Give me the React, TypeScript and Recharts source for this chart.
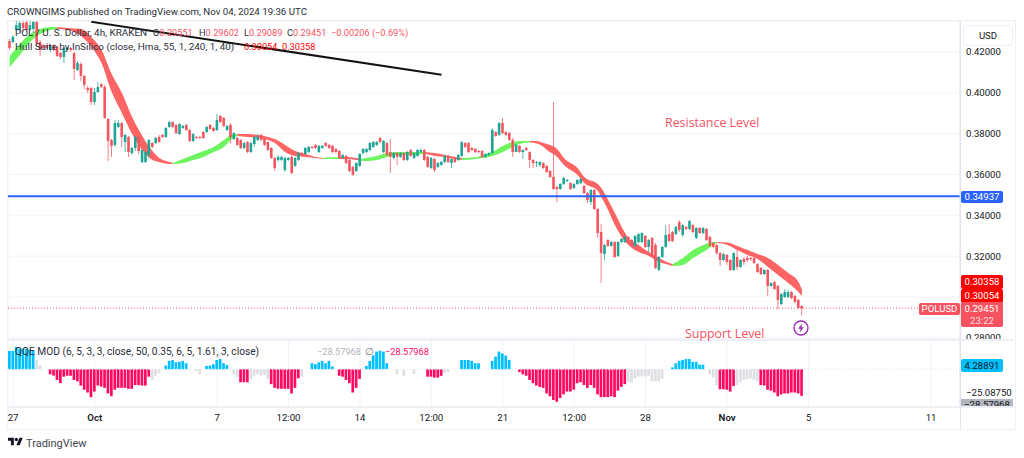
import { CSSProperties } from 'react';
import {
  Area,
  Bar,
  CartesianGrid,
  Cell,
  ComposedChart,
  ReferenceLine,
  XAxis,
  YAxis
} from 'recharts';

// candle prices, in 1/10000 USD, one per 4h bar
const opens = [
  4254, 4249, 4308, 4308, 4342, 4347, 4308, 4313, 4347, 4249,
  4234, 4234, 4210, 4234, 4225, 4195, 4176, 4210, 4220, 4195,
  4112, 4141, 4083, 4024, 4024, 3955, 4004, 4043, 4029, 3872,
  3769, 3745, 3833, 3852, 3759, 3784, 3705, 3730, 3784, 3661,
  3661, 3696, 3754, 3754, 3784, 3794, 3784, 3833, 3857, 3843,
  3798, 3828, 3843, 3818, 3764, 3784, 3784, 3808, 3808, 3843,
  3828, 3818, 3887, 3877, 3818, 3843, 3774, 3779, 3769, 3730,
  3759, 3710, 3749, 3769, 3794, 3779, 3759, 3730, 3681, 3671,
  3671, 3622, 3671, 3686, 3642, 3671, 3705, 3700, 3710, 3735,
  3745, 3710, 3730, 3754, 3745, 3740, 3725, 3715, 3681, 3691,
  3671, 3637, 3617, 3642, 3705, 3710, 3720, 3735, 3745, 3779,
  3710, 3754, 3710, 3681, 3705, 3686, 3705, 3671, 3720, 3681,
  3691, 3710, 3720, 3686, 3632, 3676, 3637, 3647, 3661, 3691,
  3656, 3681, 3671, 3691, 3754, 3754, 3730, 3725, 3715, 3715,
  3686, 3696, 3705, 3808, 3794, 3852, 3808, 3803, 3769, 3710,
  3740, 3710, 3730, 3710, 3671, 3656, 3647, 3656, 3642, 3617,
  3588, 3539, 3529, 3553, 3568, 3558, 3534, 3553, 3558, 3544,
  3509, 3465, 3524, 3431, 3318, 3210, 3279, 3250, 3269, 3201,
  3269, 3269, 3294, 3279, 3250, 3269, 3269, 3299, 3245, 3289,
  3255, 3132, 3196, 3245, 3308, 3318, 3308, 3367, 3304, 3343,
  3333, 3352, 3289, 3338, 3313, 3333, 3294, 3264, 3255, 3215,
  3181, 3206, 3181, 3132, 3196, 3147, 3186, 3191, 3191, 3191,
  3161, 3142, 3112, 3132, 3054, 3073, 3054, 2965, 3000, 3000,
  3024, 3005, 2985, 2955
];
const highs = [
  4264, 4284, 4352, 4352, 4352, 4352, 4352, 4352, 4352, 4259,
  4239, 4239, 4234, 4239, 4230, 4200, 4225, 4225, 4225, 4200,
  4156, 4151, 4088, 4034, 4029, 4024, 4053, 4048, 4039, 3877,
  3774, 3867, 3867, 3857, 3798, 3789, 3735, 3789, 3789, 3725,
  3715, 3774, 3759, 3784, 3794, 3798, 3833, 3862, 3862, 3847,
  3852, 3843, 3847, 3823, 3803, 3789, 3789, 3813, 3838, 3847,
  3833, 3896, 3892, 3882, 3843, 3852, 3808, 3784, 3774, 3759,
  3764, 3759, 3789, 3798, 3798, 3784, 3764, 3735, 3686, 3696,
  3691, 3686, 3686, 3696, 3686, 3710, 3710, 3735, 3740, 3740,
  3749, 3745, 3745, 3759, 3749, 3745, 3730, 3720, 3700, 3696,
  3676, 3642, 3661, 3705, 3730, 3730, 3759, 3764, 3764, 3784,
  3769, 3759, 3774, 3710, 3710, 3710, 3710, 3715, 3725, 3710,
  3725, 3730, 3725, 3691, 3686, 3681, 3661, 3666, 3696, 3696,
  3681, 3686, 3700, 3764, 3759, 3759, 3735, 3730, 3720, 3720,
  3705, 3710, 3828, 3813, 3857, 3877, 3813, 3808, 3779, 3749,
  3745, 3725, 3735, 3715, 3676, 3666, 3666, 3661, 3647, 3622,
  3955, 3544, 3558, 3588, 3578, 3563, 3558, 3578, 3583, 3549,
  3514, 3529, 3529, 3436, 3357, 3259, 3284, 3274, 3274, 3274,
  3289, 3299, 3299, 3284, 3304, 3313, 3318, 3304, 3284, 3294,
  3264, 3201, 3250, 3352, 3357, 3323, 3348, 3377, 3357, 3348,
  3377, 3357, 3343, 3343, 3343, 3338, 3299, 3269, 3259, 3220,
  3215, 3210, 3186, 3220, 3240, 3186, 3196, 3201, 3196, 3196,
  3166, 3147, 3137, 3137, 3073, 3078, 3059, 3019, 3039, 3034,
  3029, 3010, 2990, 2960
];
const lows = [
  4210, 4244, 4303, 4298, 4298, 4298, 4303, 4293, 4230, 4181,
  4210, 4215, 4200, 4205, 4176, 4166, 4146, 4205, 4200, 4063,
  4107, 4058, 4019, 3999, 3941, 3941, 3999, 4024, 3872, 3666,
  3686, 3735, 3828, 3735, 3710, 3686, 3696, 3715, 3700, 3656,
  3656, 3681, 3730, 3749, 3754, 3779, 3779, 3828, 3828, 3798,
  3794, 3823, 3813, 3759, 3759, 3774, 3774, 3774, 3803, 3818,
  3808, 3813, 3852, 3833, 3813, 3754, 3769, 3740, 3725, 3725,
  3705, 3705, 3735, 3764, 3764, 3740, 3715, 3676, 3617, 3661,
  3666, 3612, 3666, 3602, 3637, 3666, 3691, 3696, 3705, 3725,
  3725, 3705, 3725, 3735, 3725, 3705, 3705, 3676, 3676, 3651,
  3612, 3593, 3612, 3637, 3700, 3705, 3715, 3730, 3740, 3754,
  3705, 3691, 3607, 3676, 3647, 3681, 3666, 3666, 3686, 3676,
  3686, 3705, 3666, 3632, 3627, 3612, 3632, 3642, 3656, 3656,
  3632, 3656, 3666, 3686, 3730, 3705, 3715, 3705, 3705, 3681,
  3681, 3691, 3700, 3784, 3789, 3798, 3789, 3764, 3686, 3715,
  3705, 3676, 3715, 3632, 3632, 3637, 3637, 3627, 3607, 3583,
  3524, 3465, 3524, 3549, 3563, 3524, 3529, 3549, 3553, 3504,
  3460, 3451, 3426, 3289, 3068, 3181, 3245, 3245, 3191, 3196,
  3264, 3264, 3259, 3250, 3245, 3264, 3264, 3240, 3215, 3201,
  3137, 3127, 3191, 3240, 3269, 3269, 3304, 3318, 3294, 3328,
  3328, 3313, 3284, 3308, 3308, 3274, 3245, 3240, 3206, 3152,
  3176, 3157, 3127, 3127, 3132, 3142, 3157, 3171, 3176, 3161,
  3117, 3108, 3108, 3005, 3049, 3034, 2941, 2961, 2995, 2995,
  2990, 2970, 2941, 2909
];
const closes = [
  4220, 4274, 4332, 4342, 4318, 4308, 4332, 4347, 4244, 4210,
  4220, 4220, 4230, 4210, 4181, 4176, 4220, 4220, 4210, 4117,
  4146, 4083, 4039, 4014, 3955, 4004, 4029, 4029, 3877, 3764,
  3740, 3852, 3852, 3784, 3794, 3710, 3730, 3784, 3715, 3720,
  3710, 3769, 3735, 3779, 3759, 3784, 3828, 3857, 3833, 3803,
  3847, 3838, 3818, 3764, 3798, 3779, 3779, 3779, 3833, 3823,
  3813, 3867, 3857, 3838, 3838, 3784, 3803, 3745, 3730, 3754,
  3710, 3754, 3784, 3784, 3769, 3745, 3720, 3681, 3632, 3686,
  3686, 3681, 3681, 3607, 3681, 3705, 3696, 3730, 3735, 3730,
  3730, 3740, 3740, 3740, 3730, 3710, 3710, 3681, 3696, 3656,
  3617, 3598, 3656, 3700, 3725, 3725, 3754, 3759, 3759, 3759,
  3764, 3696, 3686, 3705, 3686, 3705, 3671, 3710, 3691, 3705,
  3720, 3720, 3671, 3637, 3681, 3622, 3656, 3661, 3691, 3661,
  3676, 3661, 3696, 3759, 3735, 3710, 3720, 3710, 3710, 3686,
  3700, 3705, 3818, 3789, 3852, 3803, 3794, 3769, 3710, 3745,
  3710, 3720, 3720, 3671, 3656, 3661, 3661, 3632, 3612, 3588,
  3529, 3529, 3553, 3583, 3573, 3529, 3553, 3573, 3578, 3509,
  3475, 3524, 3431, 3313, 3215, 3255, 3250, 3269, 3196, 3269,
  3284, 3294, 3264, 3255, 3299, 3308, 3313, 3245, 3279, 3206,
  3142, 3196, 3245, 3304, 3274, 3274, 3343, 3328, 3352, 3333,
  3372, 3318, 3338, 3313, 3338, 3279, 3250, 3245, 3215, 3181,
  3210, 3171, 3132, 3215, 3147, 3181, 3171, 3181, 3186, 3166,
  3122, 3112, 3132, 3054, 3068, 3039, 2985, 3014, 3024, 3024,
  2995, 2975, 2946, 2945
];

// hull band, one run per colour, in 1/10000 USD
const hullRuns = [
  { color: '#6cf55f', at: [0, 3, 6, 9, 12, 14],
    upper: [4181, 4239, 4288, 4313, 4323, 4323],
    lower: [4127, 4186, 4249, 4288, 4308, 4313] },
  { color: '#ff6464', at: [14, 17, 21, 24, 27, 30, 33, 36, 39, 42, 44, 47, 48],
    upper: [4323, 4318, 4313, 4274, 4210, 4092, 3999, 3882, 3789, 3715, 3681, 3661, 3656],
    lower: [4313, 4308, 4279, 4225, 4146, 4004, 3901, 3798, 3720, 3671, 3661, 3651, 3651] },
  { color: '#6cf55f', at: [48, 51, 54, 57, 60, 63, 65, 67],
    upper: [3656, 3676, 3696, 3715, 3735, 3769, 3794, 3798],
    lower: [3651, 3656, 3671, 3686, 3710, 3735, 3769, 3789] },
  { color: '#ff6464', at: [67, 70, 73, 76, 78, 81, 84, 87, 90, 92],
    upper: [3798, 3798, 3794, 3784, 3774, 3745, 3715, 3700, 3686, 3681],
    lower: [3789, 3784, 3779, 3769, 3754, 3710, 3691, 3686, 3681, 3676] },
  { color: '#6cf55f', at: [92, 95, 97],
    upper: [3681, 3684, 3686],
    lower: [3676, 3676, 3676] },
  { color: '#ff6464', at: [97, 99, 102, 103],
    upper: [3686, 3686, 3681, 3676],
    lower: [3676, 3676, 3671, 3669] },
  { color: '#6cf55f', at: [103, 105, 108, 111, 114, 120, 122],
    upper: [3676, 3681, 3691, 3705, 3710, 3710, 3710],
    lower: [3669, 3666, 3671, 3686, 3696, 3698, 3703] },
  { color: '#ff6464', at: [122, 125, 128, 131, 133],
    upper: [3710, 3705, 3696, 3686, 3681],
    lower: [3703, 3691, 3686, 3676, 3671] },
  { color: '#6cf55f', at: [133, 137, 139, 142, 145, 148, 151, 153],
    upper: [3681, 3684, 3696, 3710, 3740, 3759, 3764, 3764],
    lower: [3671, 3676, 3681, 3691, 3710, 3735, 3754, 3757] },
  { color: '#ff6464', at: [153, 155, 157, 158, 161, 163, 167, 169, 173, 174, 176, 178, 180, 182, 185, 188, 191, 194, 195],
    upper: [3764, 3764, 3754, 3749, 3725, 3681, 3632, 3588, 3553, 3534, 3475, 3411, 3343, 3289, 3255, 3220, 3191, 3166, 3161],
    lower: [3757, 3752, 3735, 3720, 3686, 3647, 3598, 3558, 3519, 3490, 3426, 3352, 3294, 3255, 3220, 3201, 3171, 3157, 3152] },
  { color: '#6cf55f', at: [195, 198, 201, 204, 207, 208],
    upper: [3161, 3191, 3230, 3255, 3269, 3269],
    lower: [3152, 3157, 3191, 3220, 3255, 3264] },
  { color: '#ff6464', at: [208, 211, 214, 217, 220, 223, 226, 229, 232, 233],
    upper: [3269, 3267, 3250, 3230, 3210, 3191, 3157, 3117, 3073, 3036],
    lower: [3264, 3255, 3230, 3206, 3186, 3147, 3108, 3068, 3024, 3005] }
];

const qqeValues = [
  19.7, 19.7, 24, 22, 22, 22, 21, 20, 10, 4.6,
  0, 0, -5.4, -6.8, -11.5, -15, -8, -7, -7, -11.5,
  -13, -17.5, -22, -25, -30, -24, -17.5, -18.6, -20, -26,
  -29, -22, -20, -20, -20, -21, -21, -17, -17, -17.5,
  -17.5, -8, -11.5, -7, -4.3, 0, 4, 9, 10, 7.5,
  8, 9, 6.5, 0, 0, -2, -5.4, 0, 3.6, 4,
  5.4, 10, 11, 6.5, 4.7, 0, -5.4, -8, -14, -14,
  -14, -10.4, -7, -5.4, -7, -6, -10.4, -16, -20, -21,
  -21, -21, -21, -26, -20, -9.7, -8, 0, 0, 6.5,
  5.4, 7.5, 9, 6.5, 9, 3, 0, -7, -8, -11.5,
  -15, -25, -20, -10.4, 0, 3.6, 9, 15, 19, 20,
  19, 6.5, 0, 0, -5.4, 0, -7, 0, 0, -5,
  0, 0, 0, -8, -8, -9, -9, -7, -4.3, -3,
  0, 0, 0, 10, 10, 10, 9, 6.5, 6.5, 0,
  0, 0, 9, 13.6, 19, 17, 14.7, 10, 0, 0,
  -3, -5.4, -7, -11.5, -15, -17.5, -19, -20, -26, -29,
  -33, -35, -31, -27, -24, -24, -22, -15, -14, -17,
  -20, -17, -20, -27, -30, -30, -30, -29, -30, -23,
  -19, -16, -14, -14, -10, -8, -7, -8, -7, -13,
  -13, -13, -10, 0, 0, 2, 6.5, 9, 10, 11,
  11, 8, 8, 5, 5, 0, -5.4, -9, -17, -21.5,
  -21.5, -22, -24, -18, -17, -14, -11.5, -10.4, -10, -11.5,
  -13, -17, -17.5, -22, -23, -25, -29, -27, -26, -26,
  -25, -25, -26, -28.58
];
const qqeKinds = [
  'bbbbbbbbgg', 'ggpppppppp', 'pppppppppp', 'pppppppppp', 'ppggggbbbb',
  'bbbgggggbb', 'bbbbbgggpp', 'pggggggppp', 'ppppppgggb', 'bbbbbbgppp',
  'ppppgbbbbb', 'bbgggggggg', 'gggpppppgg', 'gggbbbbbbg', 'ggbbbbbbgg',
  'pppppppppp', 'pppppppppp', 'pppppppppp', 'ppgggggggg', 'gggggbbbbb',
  'bbbbbggggp', 'ppppgggggg', 'gppppppppp', 'pppp'
].join('');
const qqeColors: { [key: string]: string } = { b: '#00bfff', p: '#ff0a62', g: '#dedfe3' };

const priceTicks = [0.28, 0.3, 0.32, 0.34, 0.36, 0.38, 0.4, 0.42];
const qqeTicks = [-25.0875];
const timeSlots = [1, 25, 61, 82, 103, 124, 145, 166, 187, 211, 235, 271];
const timeLabels = ['27', 'Oct', '7', '12:00', '14', '12:00', '21', '12:00', '28', 'Nov', '5', '11'];
const boldLabels = ['Oct', 'Nov'];

const resistancePrice = 0.34937;
const lastPrice = 0.29451;
const trendSlots = [24, 127];
const trendPrices = [0.4348, 0.4089];

const SLOTS = 280;
const FONT = 'Roboto, sans-serif';
const INK = '#131722';
const TEXT = '#2a2e39';
const GRID = '#f2f3f7';
const LEGEND_SIZE = 10.2;
const LEGEND_NUMBER_SIZE = 9.2;
const AXIS_SIZE = 9.6;

const rows = Array.from({ length: SLOTS }, (_, slot) => {
  const row: { [key: string]: any } = { slot };
  if (slot < opens.length) {
    row.open = opens[slot] / 10000;
    row.high = highs[slot] / 10000;
    row.low = lows[slot] / 10000;
    row.close = closes[slot] / 10000;
    row.range = [row.low, row.high];
    row.qqe = qqeValues[slot];
  }
  hullRuns.forEach((run, r) => {
    const k = run.at.indexOf(slot);
    if (k >= 0) row['hull' + r] = [run.lower[k] / 10000, run.upper[k] / 10000];
  });
  return row;
});

const Candle = (props: any) => {
  const { x, y, width, height, payload } = props;
  if (payload.high == null) return null;
  const perPrice = height / (payload.high - payload.low);
  const up = payload.close >= payload.open;
  const color = up ? '#1ea596' : '#f4555f';
  const cx = x + width / 2;
  const top = y + (payload.high - Math.max(payload.open, payload.close)) * perPrice;
  const bodyH = Math.abs(payload.open - payload.close) * perPrice;
  return (
    <g>
      <rect x={cx - 0.5} y={y} width={1} height={height} fill={color} opacity={0.75} />
      <rect x={cx - 1.3} y={top} width={2.6} height={Math.max(bodyH, 1)} fill={color} />
    </g>
  );
};

const TimeTick = (props: any) => {
  const { x, y, payload } = props;
  const label = timeLabels[timeSlots.indexOf(payload.value)];
  return (
    <text
      x={x}
      y={y + 7}
      textAnchor="middle"
      fontFamily={FONT}
      fontSize={AXIS_SIZE}
      fontWeight={boldLabels.includes(label) ? 600 : 400}
      fill={INK}
    >
      {label}
    </text>
  );
};

const abs = (left: number, top: number, extra: CSSProperties = {}): CSSProperties => ({
  position: 'absolute',
  left,
  top,
  whiteSpace: 'pre',
  fontFamily: FONT,
  ...extra
});

const Legend = ({ left, top, color = TEXT, size = LEGEND_SIZE, children }: any) => (
  <div style={abs(left, top, { fontSize: size, lineHeight: '14px', color })}>{children}</div>
);

const Tag = ({ top, height, bg, color = '#fff', width = 42, left = 961, children }: any) => (
  <div
    style={abs(left, top, {
      width,
      height,
      lineHeight: height + 'px',
      background: bg,
      color,
      fontSize: AXIS_SIZE,
      textAlign: 'center',
      borderRadius: 2,
      overflow: 'hidden'
    })}
  >
    {children}
  </div>
);

const App = () => {
  return (
    <div style={{ position: 'absolute', left: 0, top: 0, width: 1024, height: 458, background: '#fff', overflow: 'hidden' }}>
      <div style={abs(7, 5, { fontSize: 9.7, lineHeight: '14px', color: TEXT })}>
        CROWNGIMS published on TradingView.com, Nov 04, 2024 19:36 UTC
      </div>

      {/* frame */}
      <div style={abs(7, 20, { width: 1007, height: 408, border: '1.5px solid #eef0f6' })} />

      <div style={abs(8, 21)}>
        <ComposedChart width={1008} height={318} data={rows} margin={{ top: 0, right: 0, bottom: 0, left: 0 }} barCategoryGap={0}>
          <CartesianGrid stroke={GRID} />
          <XAxis dataKey="slot" type="category" ticks={timeSlots} interval={0} height={0} tick={false} tickLine={false} axisLine={false} />
          <YAxis
            orientation="right"
            width={56}
            domain={[0.2794, 0.4352]}
            allowDataOverflow
            ticks={priceTicks}
            interval={0}
            tickFormatter={(v: number) => v.toFixed(5)}
            tick={{ fontSize: AXIS_SIZE, fill: INK, fontFamily: FONT }}
            tickLine={false}
            tickMargin={0}
            axisLine={{ stroke: '#e0e3eb' }}
          />
          {hullRuns.map((run, r) => (
            <Area
              key={r}
              dataKey={'hull' + r}
              type="monotone"
              connectNulls
              fill={run.color}
              fillOpacity={1}
              stroke="none"
              dot={false}
              activeDot={false}
              isAnimationActive={false}
            />
          ))}
          <Bar dataKey="range" shape={Candle} isAnimationActive={false} />
          <ReferenceLine y={resistancePrice} stroke="#2962ff" strokeWidth={2} />
          <ReferenceLine y={lastPrice} stroke="#f7525f" strokeDasharray="1 2" />
          <ReferenceLine
            segment={[
              { x: trendSlots[0], y: trendPrices[0] },
              { x: trendSlots[1], y: trendPrices[1] }
            ]}
            stroke="#131313"
            strokeWidth={2}
          />
        </ComposedChart>
      </div>

      <div style={abs(7, 339, { width: 1007, height: 2, background: '#eef0f6' })} />

      <div style={abs(8, 341)}>
        <ComposedChart width={1008} height={89} data={rows} margin={{ top: 0, right: 0, bottom: 0, left: 0 }} barCategoryGap={0}>
          <CartesianGrid stroke={GRID} horizontal={false} />
          <XAxis
            dataKey="slot"
            type="category"
            ticks={timeSlots}
            interval={0}
            height={24}
            tick={<TimeTick />}
            tickLine={false}
            axisLine={false}
          />
          <YAxis
            orientation="right"
            width={56}
            domain={[-39.5, 30.4]}
            allowDataOverflow
            ticks={qqeTicks}
            interval={0}
            tickFormatter={(v: number) => '\u2212' + Math.abs(v).toFixed(5)}
            tick={{ fontSize: AXIS_SIZE, fill: INK, fontFamily: FONT }}
            tickLine={false}
            tickMargin={0}
            axisLine={{ stroke: '#e0e3eb' }}
          />
          <ReferenceLine y={0} stroke="#e3e5ec" strokeDasharray="1 2" />
          <Bar dataKey="qqe" barSize={2.7} isAnimationActive={false}>
            {rows.map((row) => (
              <Cell key={row.slot} fill={qqeColors[qqeKinds[row.slot]] || '#dedfe3'} />
            ))}
          </Bar>
        </ComposedChart>
      </div>

      <div style={abs(7, 406, { width: 1007, height: 2, background: '#eef0f6' })} />
      <div style={abs(960, 21, { width: 1, height: 408, background: '#e0e3eb' })} />

      {/* legends */}
      <Legend left={15} top={26} size={9.9}>POL / U. S. Dollar, 4h, KRAKEN</Legend>
      <Legend left={153} top={26} size={LEGEND_NUMBER_SIZE}>O<span style={{ color: '#f7525f' }}>0.29551</span></Legend>
      <Legend left={199} top={26} size={LEGEND_NUMBER_SIZE}>H<span style={{ color: '#f7525f' }}>0.29602</span></Legend>
      <Legend left={244} top={26} size={LEGEND_NUMBER_SIZE}>L<span style={{ color: '#f7525f' }}>0.29089</span></Legend>
      <Legend left={287} top={26} size={LEGEND_NUMBER_SIZE}>C<span style={{ color: '#f7525f' }}>0.29451</span></Legend>
      <Legend left={331} top={26} size={LEGEND_NUMBER_SIZE} color="#f7525f">{'\u22120.00206 (\u22120.69%)'}</Legend>
      <Legend left={15} top={40} size={9.9}>Hull Suite by InSilico (close, Hma, 55, 1, 240, 1, 40)</Legend>
      <Legend left={244} top={40} size={LEGEND_NUMBER_SIZE} color="#ff0000">0.30054</Legend>
      <Legend left={282} top={40} size={LEGEND_NUMBER_SIZE} color="#ff0000">0.30358</Legend>
      <Legend left={15} top={345}>QQE MOD (6, 5, 3, 3, close, 50, 0.35, 6, 5, 1.61, 3, close)</Legend>
      <Legend left={317} top={345} size={LEGEND_NUMBER_SIZE} color="#b2b5be">{'\u221228.57968'}</Legend>
      <Legend left={365} top={345} color="#787b86">{'\u2205'}</Legend>
      <Legend left={385} top={345} size={LEGEND_NUMBER_SIZE} color="#ff0a62">{'\u221228.57968'}</Legend>

      <div style={abs(665, 114, { fontSize: 12.4, color: '#f7525f', fontFamily: '"Open Sans", sans-serif' })}>Resistance Level</div>
      <div style={abs(685, 325, { fontSize: 12.4, color: '#f7525f', fontFamily: '"Open Sans", sans-serif' })}>Support Level</div>

      <svg style={abs(793, 320)} width={16} height={16} viewBox="0 0 16 16">
        <circle cx={8} cy={8} r={7} fill="#fff" stroke="#9c27b0" strokeWidth={1.3} />
        <path d="M9 3.5 5.2 8.8h2.4L7 12.5l3.8-5.3H8.4z" fill="#9c27b0" />
      </svg>

      {/* axis tags */}
      <div style={abs(963, 25, { width: 48, height: 19, border: '1.5px solid #eceef4', borderRadius: 4, fontSize: AXIS_SIZE, lineHeight: '19px', textAlign: 'center', color: INK })}>USD</div>
      <Tag top={191} height={12} bg="#2962ff">0.34937</Tag>
      <Tag top={275} height={14} bg="#ff0000">0.30358</Tag>
      <Tag top={289} height={14} bg="#ff0000">0.30054</Tag>
      <Tag top={302} height={25} bg="#f7525f">
        <div style={{ lineHeight: '13px' }}>0.29451</div>
        <div style={{ lineHeight: '11px', opacity: 0.8 }}>23:22</div>
      </Tag>
      <Tag left={919} width={41} top={303} height={12} bg="#f7525f">POLUSD</Tag>
      <Tag top={359} height={13} bg="#00bfff" color={INK}>4.28891</Tag>
      <div style={abs(961, 399, { width: 52, height: 7, background: '#b2b5be', overflow: 'hidden', fontSize: AXIS_SIZE, lineHeight: '12px', textAlign: 'center', color: INK })}>{'\u221228.57968'}</div>

      {/* footer */}
      <svg style={abs(8, 436)} width={15} height={12} viewBox="0 0 36 28">
        <path d="M14 22H7V11H0V4h14v18zM28 22h-8l7.5-18h8L28 22z" fill="#131722" />
        <circle cx={20} cy={8} r={4} fill="#131722" />
      </svg>
      <div style={abs(26, 437, { fontSize: 11, lineHeight: '14px', color: '#434651' })}>TradingView</div>
    </div>
  );
};

export default App;
